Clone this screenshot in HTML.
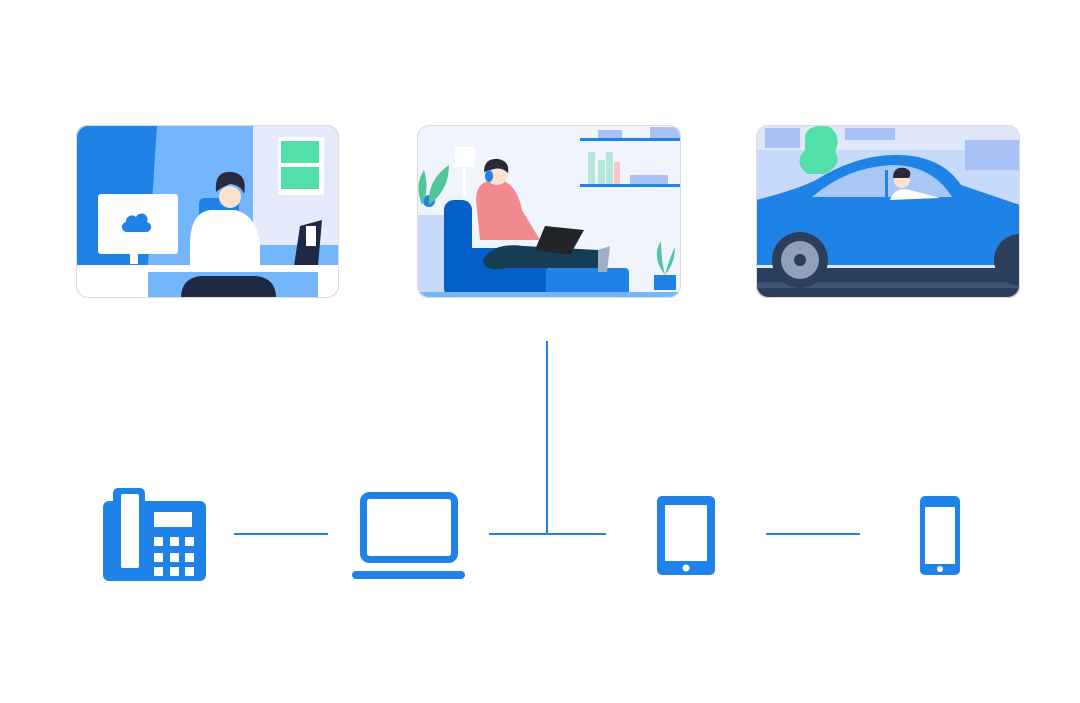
<!DOCTYPE html>
<html><head><meta charset="utf-8"><style>html,body{margin:0;padding:0;background:#fff;width:1080px;height:703px;overflow:hidden}</style></head>
<body>
<svg width="1080" height="703" viewBox="0 0 1080 703" xmlns="http://www.w3.org/2000/svg">
<defs>
<clipPath id="c1"><rect x="76" y="125" width="263" height="173" rx="12"/></clipPath>
<clipPath id="c2"><rect x="417" y="125" width="264" height="173" rx="12"/></clipPath>
<clipPath id="c3"><rect x="756" y="125" width="264" height="173" rx="12"/></clipPath>
</defs>
<!-- Card 1 -->
<g clip-path="url(#c1)">
<rect x="76" y="125" width="263" height="173" fill="#74b6fb"/>
<polygon points="76,125 157,125 148,265 76,265" fill="#1f82e6"/>
<rect x="253" y="125" width="86" height="120" fill="#e5ebfd"/>
<rect x="278" y="137" width="46" height="58" fill="#fff"/>
<rect x="281" y="141" width="38" height="22" fill="#52e0a8"/>
<rect x="281" y="167" width="38" height="22" fill="#52e0a8"/>
<rect x="98" y="194" width="80" height="60" rx="3" fill="#fff"/>
<path d="M126 222 a6 6 0 0 1 10 -5 a6 6 0 0 1 11 5 a5 5 0 0 1 -2 10 h-17 a5 5 0 0 1 -2 -10z" fill="#1f82e6"/>
<rect x="130" y="254" width="8" height="10" fill="#fff"/>
<rect x="199" y="198" width="40" height="70" rx="5" fill="#1f82e6"/>
<path d="M190 245 q0-32 20-35 h25 q22 5 25 35 v30 h-70z" fill="#fff"/>
<circle cx="230" cy="197" r="11" fill="#fde2d0"/>
<path d="M216 192 q-2-22 16-20 q16 2 12 22 q-3-9-14-10 q-10 4-14 8z" fill="#2b2a3c"/>
<polygon points="300,226 322,220 318,266 294,266" fill="#1e2a44"/>
<rect x="306" y="226" width="10" height="20" fill="#fff"/>
<rect x="76" y="265" width="263" height="33" fill="#fff"/>
<rect x="148" y="272" width="170" height="26" fill="#74b6fb"/>
<path d="M181 298 q0-20 20-22 h55 q20 2 20 22z" fill="#1e2a44"/>
</g>
<rect x="76.5" y="125.5" width="262" height="172" rx="12" fill="none" stroke="#ddd"/>
<!-- Card 2 -->
<g clip-path="url(#c2)">
<rect x="417" y="125" width="264" height="173" fill="#f0f4fc"/>
<rect x="580" y="138" width="101" height="3" fill="#1f82e6"/>
<rect x="580" y="184" width="101" height="3" fill="#1f82e6"/>
<rect x="598" y="130" width="24" height="8" fill="#a9c2f5"/>
<rect x="650" y="127" width="31" height="11" fill="#a9c2f5"/>
<rect x="588" y="152" width="7" height="32" fill="#b4e6dc"/>
<rect x="598" y="160" width="7" height="24" fill="#b4e6dc"/>
<rect x="606" y="152" width="7" height="32" fill="#b4e6dc"/>
<rect x="614" y="162" width="6" height="22" fill="#f8c6c6"/>
<rect x="630" y="175" width="38" height="9" fill="#a9c2f5"/>
<rect x="455" y="147" width="20" height="20" fill="#fff"/>
<rect x="463" y="167" width="3" height="30" fill="#fff"/>
<rect x="417" y="215" width="35" height="83" fill="#c7dafc"/>
<circle cx="429" cy="201" r="6" fill="#1f82e6"/>
<path d="M440 210 q-8-20 2-35 q6 20 -2 35z M447 210 q-2-25 20-40 q0 25 -20 40z" fill="#52c49a" transform="translate(-18 -5) scale(1)"/>
<rect x="444" y="200" width="28" height="98" rx="10" fill="#0460c8"/>
<rect x="448" y="248" width="100" height="50" fill="#0460c8"/>
<rect x="546" y="268" width="83" height="30" rx="4" fill="#1f82e6"/>
<path d="M476 200 q0-20 20-20 q20 0 26 30 l18 30 h-60z" fill="#f08a8f"/>
<circle cx="497" cy="174" r="11" fill="#fde2d0"/>
<path d="M484 172 q0-14 14-13 q12 2 10 14 q-6-6-14-4z" fill="#2b2a3c"/>
<ellipse cx="489" cy="176" rx="4" ry="6" fill="#1f82e6"/>
<path d="M483 260 q10-18 40-14 l75 4 v18 l-90 0 q-25 5-25-8z" fill="#153d58"/>
<polygon points="545,226 584,230 570,255 535,250" fill="#232428"/>
<path d="M598 250 l12 -4 l-3 26 l-9 0z" fill="#a0aec8"/>
<rect x="654" y="275" width="22" height="15" fill="#1f82e6"/>
<path d="M665 275 q-14-18-4-34 q0 18 4 34 q4-16 10-28 q0 16 -10 28z" fill="#52c49a"/>
<rect x="417" y="292" width="264" height="6" fill="#74b6fb"/>
</g>
<rect x="417.5" y="125.5" width="263" height="172" rx="12" fill="none" stroke="#ddd"/>
<!-- Card 3 -->
<g clip-path="url(#c3)">
<rect x="756" y="125" width="264" height="173" fill="#dfe8fb"/>
<rect x="756" y="150" width="264" height="100" fill="#c7dafc"/>
<rect x="765" y="128" width="35" height="20" fill="#a9c2f5"/>
<rect x="845" y="128" width="50" height="12" fill="#a9c2f5"/>
<rect x="965" y="140" width="55" height="30" fill="#a9c2f5"/>
<path d="M805 135 q5-12 25-8 q12 10 5 25 q8 12-10 22 h-18 q-14-12-2-24z" fill="#52e0a8"/>
<rect x="756" y="268" width="264" height="30" fill="#2c3e5c"/>
<rect x="756" y="282" width="264" height="6" fill="#3f5578"/>
<path d="M756 200 q40-10 60-20 q40-25 80-25 q45 0 65 30 l59 20 v60 h-264z" fill="#1f82e6"/>
<path d="M812 197 q35-30 80-32 q40 0 60 32z" fill="#a9c7f5"/>
<rect x="885" y="170" width="3" height="28" fill="#1f82e6"/>
<circle cx="902" cy="180" r="8" fill="#fde2d0"/>
<path d="M893 178 q0-12 12-10 q8 3 4 10z" fill="#2b2a3c"/>
<path d="M890 200 q5-14 20-10 l30 8z" fill="#fff"/>
<circle cx="800" cy="260" r="28" fill="#2c3e5c"/>
<circle cx="800" cy="260" r="19" fill="#8fa0b8"/>
<circle cx="800" cy="260" r="6" fill="#2c3e5c"/>
<circle cx="1020" cy="260" r="26" fill="#2c3e5c"/>
</g>
<rect x="756.5" y="125.5" width="263" height="172" rx="12" fill="none" stroke="#ddd"/>
<!-- connectors -->
<g stroke="#1f82e6" stroke-width="2" fill="none">
<line x1="234" y1="534" x2="328" y2="534"/>
<line x1="489" y1="534" x2="606" y2="534"/>
<line x1="766" y1="534" x2="860" y2="534"/>
<line x1="547" y1="341" x2="547" y2="534"/>
</g>
<!-- desk phone -->
<g fill="#1f82e6">
<rect x="103" y="501" width="103" height="80" rx="6"/>
<rect x="113" y="488" width="32" height="86" rx="5"/>
</g>
<rect x="121" y="494" width="18" height="74" rx="2" fill="#fff"/>
<g fill="#fff">
<rect x="154" y="512" width="38" height="15"/>
<rect x="154" y="537" width="9" height="9"/><rect x="170" y="537" width="9" height="9"/><rect x="185" y="537" width="9" height="9"/>
<rect x="154" y="553" width="9" height="9"/><rect x="170" y="553" width="9" height="9"/><rect x="185" y="553" width="9" height="9"/>
<rect x="154" y="567" width="9" height="9"/><rect x="170" y="567" width="9" height="9"/><rect x="185" y="567" width="9" height="9"/>
</g>
<!-- laptop -->
<rect x="363.5" y="495.5" width="91" height="64" rx="6" fill="none" stroke="#1f82e6" stroke-width="7"/>
<rect x="352" y="571" width="113" height="8" rx="4" fill="#1f82e6"/>
<!-- tablet -->
<rect x="657" y="496" width="58" height="79" rx="5" fill="#1f82e6"/>
<rect x="665" y="505" width="42" height="56" fill="#fff"/>
<circle cx="686" cy="568" r="3.5" fill="#fff"/>
<!-- phone -->
<rect x="920" y="496" width="40" height="79" rx="5" fill="#1f82e6"/>
<rect x="925" y="507" width="30" height="57" fill="#fff"/>
<circle cx="940" cy="569" r="3" fill="#fff"/>
</svg>
</body></html>
